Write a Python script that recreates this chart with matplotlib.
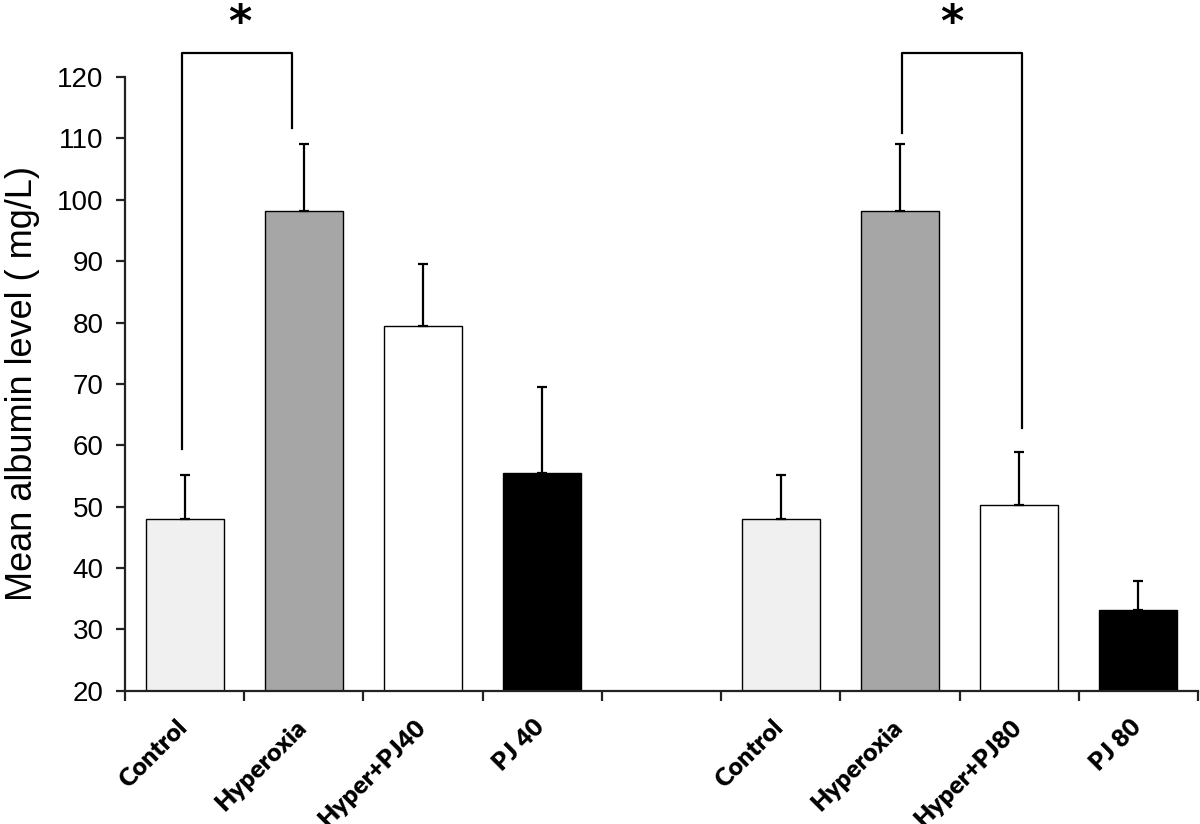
import numpy as np
import matplotlib
matplotlib.use("Agg")
import matplotlib.pyplot as plt
from matplotlib.transforms import offset_copy

# ---- data ----
categories = ["Control", "Hyperoxia", "Hyper+PJ40", "PJ 40",
              "Control", "Hyperoxia", "Hyper+PJ80", "PJ 80"]
means = [48.0, 98.2, 79.4, 55.4, 48.0, 98.2, 50.3, 33.1]
sd_upper = [7.2, 10.9, 10.2, 14.1, 7.2, 10.9, 8.6, 4.7]
bar_colors = ["#f0f0f0", "#a6a6a6", "#ffffff", "#000000",
              "#f0f0f0", "#a6a6a6", "#ffffff", "#000000"]
yticks = list(range(20, 121, 10))
ylabel = "Mean albumin level ( mg/L)"

# significance brackets: (x_left, x_right, y_left_end, y_right_end, y_top)
brackets = [(-0.02, 0.90, 59.4, 111.7, 124.0),
            (6.02, 7.02, 110.9, 62.8, 124.0)]
stars_x = [0.465, 6.435]
star_y = 126.7

# positions: two groups of four, separated by one empty slot
positions = [i if i < 4 else i + 1 for i in range(len(categories))]
n_slots = 9

fig = plt.figure(figsize=(12, 8.24), dpi=100)
ax = fig.add_axes([125 / 1200, 1 - 690.6 / 824, 1073 / 1200, (690.6 - 77.1) / 824])

ax.bar(positions, [m - 20 for m in means], bottom=20, width=0.654,
       color=bar_colors, edgecolor="black", linewidth=1.0, zorder=2)
ax.errorbar(positions, means, yerr=[np.zeros(len(means)), sd_upper],
            fmt="none", ecolor="black", elinewidth=1.6, capsize=3.3,
            capthick=1.6, zorder=3)

ax.set_xlim(-0.5, n_slots - 0.5)
ax.set_ylim(20, 120)

for s in ["top", "right"]:
    ax.spines[s].set_visible(False)
for s in ["left", "bottom"]:
    ax.spines[s].set_linewidth(1.6)
    ax.spines[s].set_color("#222222")

ax.set_yticks(yticks)
ax.set_yticklabels([str(t) for t in yticks], fontsize=20,
                   fontfamily="Liberation Sans")
ax.tick_params(axis="y", direction="out", length=6.5, width=1.6,
               color="#222222", pad=9)
ax.set_xticks(np.arange(-0.5, n_slots, 1.0))
ax.set_xticklabels([])
ax.tick_params(axis="x", direction="out", length=7, width=1.6, color="#222222")

ax.set_ylabel(ylabel, fontsize=26, fontfamily="Liberation Sans")
ax.yaxis.set_label_coords(-0.079, 0.5)

lab_tr = offset_copy(ax.get_xaxis_transform(), fig=fig, x=-9, y=-25, units="dots")
for p, c in zip(positions, categories):
    ax.text(p, 0, c, transform=lab_tr, rotation=45, ha="right", va="top",
            rotation_mode="anchor", fontsize=18, fontweight="heavy",
            fontfamily="Lato")

for (xl, xr, yl, yr, yt) in brackets:
    ax.plot([xl, xl, xr, xr], [yl, yt, yt, yr], color="black", lw=1.6,
            clip_on=False, zorder=4)
for sx in stars_x:
    ax.text(sx, star_y, "*", ha="center", va="baseline", fontsize=32,
            fontweight="bold", fontfamily="DejaVu Sans", clip_on=False)

fig.savefig("out.png", dpi=100)
